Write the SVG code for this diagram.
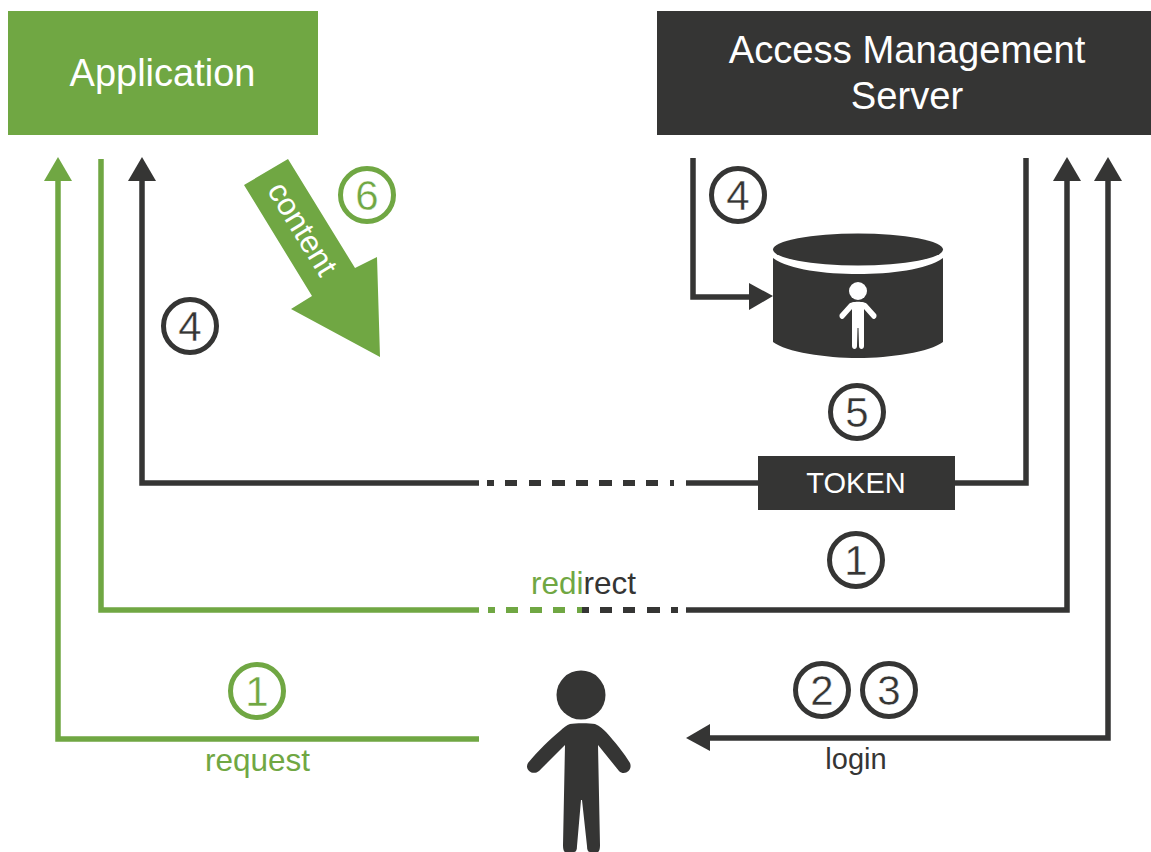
<svg xmlns="http://www.w3.org/2000/svg" width="1151" height="852" viewBox="0 0 1151 852">
<style>
text{font-family:"Liberation Sans",Arial,sans-serif;text-anchor:middle}
.g{fill:#70a743}.d{fill:#353534}.w{fill:#fff}
.ls{fill:none;stroke-width:5.500;stroke-linejoin:miter}
.ds{fill:none;stroke-width:6}
.lg{stroke:#70a743}.ld{stroke:#353534}
.c{fill:#fff;stroke-width:5}
.n{font-size:42px;stroke:#fff;stroke-width:.4px}
.l{font-size:31.500px}
</style>
<rect width="1151" height="852" fill="#fff"/>
<g id="connectors">
<path class="ls lg" d="M479 739H58V181"/><polygon class="g" points="58,157 72,181 44,181"/>
<path class="ls lg" d="M101 159V610H479"/>
<path class="ds lg" d="M488 610h7M506 610h12M530 610h12M553 610h12M577 610h5"/>
<path class="ds ld" d="M582 610h7M600 610h12M623 610h12M647 610h13M671 610h7"/>
<path class="ls ld" d="M686 610H1067V181"/><polygon class="d" points="1067,157 1081,181 1053,181"/>
<path class="ls ld" d="M479 483H142V181"/><polygon class="d" points="142,157 156,181 128,181"/>
<path class="ds ld" d="M487 483h7M505 483h12M529 483h12M552 483h13M576 483h12M599 483h13M623 483h12M646 483h12M670 483h4"/>
<path class="ls ld" d="M686 483H758"/>
<path class="ls ld" d="M955 483H1026V158"/>
<path class="ls ld" d="M1108 181V738H710"/><polygon class="d" points="1108,157 1122,181 1094,181"/><polygon class="d" points="686,738 710,724 710,751"/>
<path class="ls ld" d="M693 158V297H750"/><polygon class="d" points="773,296 749,283 749,310"/>
</g>
<g id="application"><rect class="g" x="8" y="11" width="310" height="124"/><text class="w" x="162.500" y="86" font-size="38">Application</text></g>
<g id="server"><rect class="d" x="657" y="11" width="494" height="124"/><text class="w" x="907" y="63" font-size="38.200">Access Management</text><text class="w" x="907" y="109" font-size="38.200">Server</text></g>
<g id="content-arrow"><polygon class="g" points="288,159 244,185 312,296 291,309 380,357 377,257 355,268"/><text class="w" font-size="31.500" transform="translate(302,229) rotate(58.500)" y="10" x="0">content</text></g>
<g id="database">
<ellipse class="d" cx="858" cy="249.500" rx="85" ry="16"/>
<path class="d" d="M773 258C790 270 825 274 858 274C891 274 926 270 943 258V342C930 352 890 358 858 358C826 358 786 352 773 342Z"/>
<circle class="w" cx="858" cy="291" r="9"/>
<path class="w" d="M849 304C851 301 865 301 867 304L876 314C878 317 874 321 872 318L864 309L864 346C864 350 859 350 859 346L858.500 328L857.500 328L857 346C857 350 852 350 852 346L852 309L844 318C842 321 838 317 840 314Z"/>
</g>
<g id="token"><rect class="d" x="758" y="456" width="197" height="54"/><text class="w" x="856" y="493" font-size="29">TOKEN</text></g>
<g id="user">
<circle class="d" cx="581" cy="695" r="24.500"/>
<path class="d" d="M570 724C575 723 590 723 595 724C600 726 604 730 606 732C615 742 624 753 630 763C633 771 624 776 619 771L598 745L600 845C600 852 598 852 597 852H590C588 852 587 850 587 846L582 800H581L577 846C577 850 576 852 574 852H566C565 852 563 852 563 845L565 745L539 771C533 776 524 770 528 763C538 751 550 739 560 731C563 728 567 725 570 724Z"/>
</g>
<g id="badge-6"><circle class="c lg" cx="367" cy="195" r="26.500"/><text class="n g" x="367" y="210">6</text></g>
<g id="badge-4a"><circle class="c ld" cx="738" cy="195" r="26.500"/><text class="n d" x="738" y="210">4</text></g>
<g id="badge-4b"><circle class="c ld" cx="190" cy="326" r="26.500"/><text class="n d" x="190" y="341">4</text></g>
<g id="badge-5"><circle class="c ld" cx="857" cy="412" r="26.500"/><text class="n d" x="857" y="427">5</text></g>
<g id="badge-1a"><circle class="c ld" cx="856" cy="560" r="26.500"/><text class="n d" x="856" y="575">1</text></g>
<g id="badge-1b"><circle class="c lg" cx="257" cy="691" r="26.500"/><text class="n g" x="257" y="706">1</text></g>
<g id="badge-2"><circle class="c ld" cx="822" cy="690" r="26.500"/><text class="n d" x="822" y="705">2</text></g>
<g id="badge-3"><circle class="c ld" cx="889" cy="690" r="26.500"/><text class="n d" x="889" y="705">3</text></g>
<g id="labels">
<text class="l" x="583.500" y="594"><tspan class="g">redi</tspan><tspan class="d">rect</tspan></text>
<text class="l g" x="257.500" y="771">request</text>
<text class="d" font-size="29" x="856" y="769">login</text>
</g>
</svg>
